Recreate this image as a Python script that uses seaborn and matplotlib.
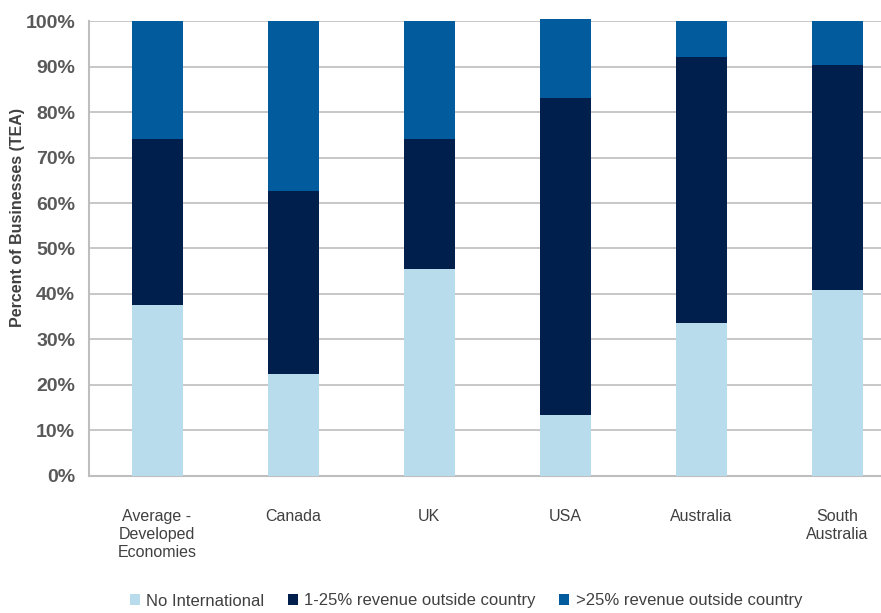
import matplotlib
matplotlib.use("Agg")
import matplotlib.pyplot as plt
from matplotlib.patches import Patch
import numpy as np
import pandas as pd
import seaborn as sns

categories = ["Average -\nDeveloped\nEconomies", "Canada", "UK", "USA", "Australia", "South\nAustralia"]
series_names = ["No International", "1-25% revenue outside country", ">25% revenue outside country"]
no_international = [37.6, 22.4, 45.5, 13.4, 33.6, 40.9]
low_share = [36.6, 40.3, 28.6, 69.7, 58.5, 49.4]
high_share = [25.8, 37.3, 25.9, 17.5, 7.9, 9.7]
ytick_values = [0, 10, 20, 30, 40, 50, 60, 70, 80, 90, 100]
colors = ["#B8DCEB", "#001F4D", "#025B9C"]

sns.set_theme(style="white")
plt.rcParams["font.family"] = ["Liberation Sans", "DejaVu Sans"]

layers = np.cumsum(np.array([no_international, low_share, high_share]), axis=0)
df = pd.DataFrame({"category": categories})

fig = plt.figure(figsize=(8.81, 6.13), dpi=100)
ax = fig.add_axes([89 / 881, 1 - 475.7 / 613, (905 - 89) / 881, (475.7 - 21.3) / 613])

# draw stacks back-to-front using cumulative totals
for i in reversed(range(3)):
    df["value"] = layers[i]
    sns.barplot(data=df, x="category", y="value", color=colors[i], saturation=1,
                width=0.375, ax=ax, linewidth=0, clip_on=False, zorder=3 + (2 - i))

ax.set_ylim(0, 100)
ax.set_xlim(-0.5, 5.5)
ax.set_yticks(ytick_values)
ax.set_yticklabels([f"{v}%" for v in ytick_values], fontsize=14, fontweight="bold", color="#595959")
ax.yaxis.grid(True, color="#BEBEBE", linewidth=1.2, zorder=0)
ax.set_axisbelow(True)
ax.tick_params(axis="y", length=0, pad=10)
ax.tick_params(axis="x", length=0, pad=24)
for lab in ax.get_xticklabels():
    lab.set_fontsize(11.5)
    lab.set_color("#404040")
    lab.set_linespacing(1.25)
ax.set_xlabel("")
ax.set_ylabel("")
fig.text(18 / 881, 1 - 217 / 613, "Percent of Businesses (TEA)", rotation=90,
         ha="center", va="center", fontsize=11.5, fontweight="bold", color="#404040")

for side in ["top", "right"]:
    ax.spines[side].set_visible(False)
for side in ["left", "bottom"]:
    ax.spines[side].set_color("#BEBEBE")
    ax.spines[side].set_linewidth(1.5)

handles = [Patch(facecolor=c, edgecolor="none") for c in colors]
fig.legend(handles, series_names, loc="center", bbox_to_anchor=(466 / 881, 1 - 601 / 613),
           ncol=3, frameon=False, fontsize=12, handlelength=0.6, handleheight=0.6,
           handletextpad=0.4, columnspacing=1.4, labelcolor="#404040")

fig.savefig("out.png", dpi=100)
